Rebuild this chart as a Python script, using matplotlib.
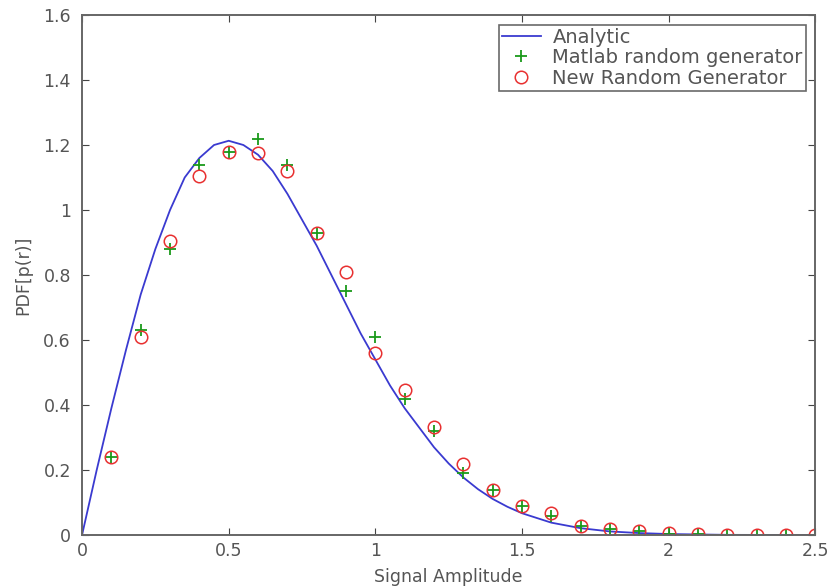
import matplotlib

matplotlib.use("Agg")
import matplotlib.pyplot as plt

plt.rcParams["font.family"] = ["DejaVu Sans"]

# Curva analitica (paso 0.05)
r_analytic = [0.0, 0.05, 0.1, 0.15, 0.2, 0.25, 0.3, 0.35, 0.4, 0.45, 0.5,
              0.55, 0.6, 0.65, 0.7, 0.75, 0.8, 0.85, 0.9, 0.95, 1.0,
              1.05, 1.1, 1.15, 1.2, 1.25, 1.3, 1.35, 1.4, 1.45, 1.5,
              1.6, 1.7, 1.8, 1.9, 2.0, 2.2, 2.5]
p_analytic = [0.0, 0.20, 0.39, 0.57, 0.74, 0.88, 1.00, 1.10, 1.16, 1.20, 1.213,
              1.20, 1.17, 1.12, 1.05, 0.97, 0.89, 0.80, 0.71, 0.62, 0.54,
              0.46, 0.39, 0.33, 0.27, 0.22, 0.177, 0.141, 0.111, 0.087, 0.067,
              0.038, 0.021, 0.011, 0.006, 0.003, 0.0005, 0.0]

# Histogramas normalizados de los generadores
r_samples = [0.1, 0.2, 0.3, 0.4, 0.5, 0.6, 0.7, 0.8, 0.9, 1.0,
             1.1, 1.2, 1.3, 1.4, 1.5, 1.6, 1.7, 1.8, 1.9, 2.0,
             2.1, 2.2, 2.3, 2.4, 2.5]
p_matlab = [0.24, 0.63, 0.88, 1.14, 1.18, 1.22, 1.14, 0.93, 0.75, 0.61,
            0.42, 0.32, 0.19, 0.138, 0.089, 0.058, 0.027, 0.018, 0.012, 0.004,
            0.002, 0.0, 0.0, 0.0, 0.0]
p_new = [0.24, 0.61, 0.905, 1.105, 1.18, 1.175, 1.12, 0.93, 0.81, 0.56,
         0.445, 0.333, 0.22, 0.138, 0.089, 0.069, 0.027, 0.02, 0.013, 0.005,
         0.002, 0.001, 0.0, 0.0, 0.0]

fig = plt.figure(figsize=(8.32, 5.88), dpi=100)
ax = fig.add_axes([0.0986, 0.0901, 0.8814, 0.8844])

ax.plot(r_analytic, p_analytic, color="#3a3ad0", lw=1.3, label="Analytic")
ax.plot(r_samples, p_matlab, linestyle="none", marker="+", color="#1a9a1a",
        markersize=9, markeredgewidth=1.3, label="Matlab random generator")
ax.plot(r_samples, p_new, linestyle="none", marker="o", markerfacecolor="none",
        markeredgecolor="#e83030", markersize=9, markeredgewidth=1.1,
        label="New Random Generator")

ax.set_xlim(0, 2.5)
ax.set_ylim(0, 1.6)
ax.set_xticks([0, 0.5, 1, 1.5, 2, 2.5])
ax.set_xticklabels(["0", "0.5", "1", "1.5", "2", "2.5"])
ax.set_yticks([0, 0.2, 0.4, 0.6, 0.8, 1, 1.2, 1.4, 1.6])
ax.set_yticklabels(["0", "0.2", "0.4", "0.6", "0.8", "1", "1.2", "1.4", "1.6"])
ax.tick_params(direction="in", top=True, right=True, length=5,
               labelsize=12.5, colors="#444444", labelcolor="#555555")
ax.tick_params(axis="y", pad=8)
ax.tick_params(axis="x", pad=5)
for s in ax.spines.values():
    s.set_color("#666666")
    s.set_linewidth(1.4)

ax.set_xlabel("Signal Amplitude", fontsize=12.5, color="#555555", labelpad=6)
ax.set_ylabel("PDF[p(r)]", fontsize=12.5, color="#555555", labelpad=8)

leg = ax.legend(loc="upper right", fontsize=14, frameon=True, fancybox=False,
                borderpad=0.15, labelspacing=0.08, handlelength=2.0,
                borderaxespad=0.5, handletextpad=0.6)
leg.get_frame().set_edgecolor("#444444")
leg.get_frame().set_linewidth(1.2)
for t in leg.get_texts():
    t.set_color("#555555")

fig.savefig("out.png", dpi=100)
